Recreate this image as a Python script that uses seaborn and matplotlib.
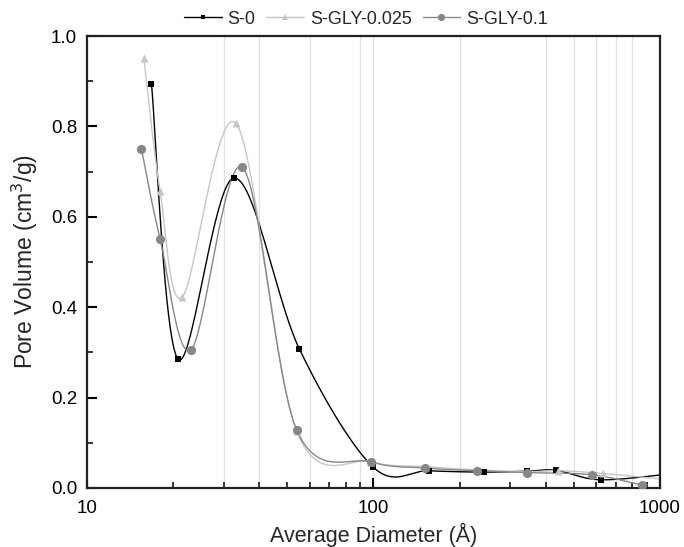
import numpy as np
import pandas as pd
import matplotlib
matplotlib.use('Agg')
import matplotlib.pyplot as plt
from matplotlib.lines import Line2D
from matplotlib.ticker import LogLocator, MultipleLocator, NullFormatter
import seaborn as sns

# pore size distribution
d_s0 = [16.8, 20.8, 32.6, 55.1, 99.8, 155.8, 242.4, 342.4, 434.5, 623.7, 1150]
v_s0 = [0.895, 0.285, 0.686, 0.308, 0.046, 0.038, 0.035, 0.037, 0.039, 0.018, 0.033]

d_g025 = [15.8, 18.0, 21.5, 33.1, 54.0, 98.2, 151.0, 230.0, 342.4, 440.0, 634.0, 1150]
v_g025 = [0.951, 0.658, 0.422, 0.807, 0.125, 0.058, 0.047, 0.040, 0.036, 0.038, 0.032, 0.016]

d_g01 = [15.5, 18.0, 23.1, 34.8, 54.0, 98.2, 150.9, 229.0, 342.4, 580.0, 867.0]
v_g01 = [0.751, 0.552, 0.306, 0.710, 0.128, 0.0575, 0.044, 0.038, 0.034, 0.029, 0.006]

grid_x = [30, 40, 60, 90, 100, 200, 400, 500, 600, 700, 800]


def spline_curve(xs, ys, n=40):
    # uniform Catmull-Rom through the points, done in screen-like units
    # (log x vs linear y) the way Origin's spline connection looks
    P = np.column_stack([(np.log10(xs) - 1) * 286.5, np.asarray(ys) * 452.0])
    P = np.vstack([P[0], P, P[-1]])
    out = []
    s = np.linspace(0, 1, n)[:, None]
    for i in range(1, len(P) - 2):
        p0, p1, p2, p3 = P[i - 1], P[i], P[i + 1], P[i + 2]
        m1 = (p2 - p0) / 2
        m2 = (p3 - p1) / 2
        h00 = 2 * s**3 - 3 * s**2 + 1
        h10 = s**3 - 2 * s**2 + s
        h01 = -2 * s**3 + 3 * s**2
        h11 = s**3 - s**2
        out.append(h00 * p1 + h10 * m1 + h01 * p2 + h11 * m2)
    out = np.vstack(out)
    return 10 ** (out[:, 0] / 286.5 + 1), out[:, 1] / 452.0


series = [
    ('S-0', d_s0, v_s0, '#000000', 's', 4.2, 3.2),
    ('S-GLY-0.025', d_g025, v_g025, '#c6c6c6', '^', 5.8, 4.0),
    ('S-GLY-0.1', d_g01, v_g01, '#878787', 'o', 6.6, 5.2),
]

sns.set_style('white')
plt.rcParams['font.family'] = ['Liberation Sans', 'DejaVu Sans']

fig = plt.figure(figsize=(6.84, 5.47), dpi=100)
ax = fig.add_axes([0.127, 0.108, 0.838, 0.826])

for gx in grid_x:
    ax.axvline(gx, color='#e0e0e0', lw=0.9, zorder=0)

handles = []
for name, xs, ys, col, mk, ms, lms in series:
    cx, cy = spline_curve(xs, ys)
    curve = pd.DataFrame({'d': cx, 'v': cy})
    sns.lineplot(data=curve, x='d', y='v', ax=ax, color=col, lw=1.0,
                 sort=False, estimator=None, zorder=2)
    pts = pd.DataFrame({'d': xs, 'v': ys})
    sns.scatterplot(data=pts, x='d', y='v', ax=ax, color=col, marker=mk,
                    s=ms ** 2, edgecolor=col, linewidth=0, zorder=3)
    handles.append(Line2D([], [], color=col, lw=1.0, marker=mk,
                          markersize=lms, markeredgewidth=0, label=name))

ax.set_xscale('log')
ax.set_xlim(10, 1000)
ax.set_ylim(0, 1.0)
ax.xaxis.set_minor_locator(LogLocator(base=10, subs=np.arange(2, 10), numticks=20))
ax.xaxis.set_minor_formatter(NullFormatter())
ax.set_xticks([10, 100, 1000])
ax.set_xticklabels(['10', '100', '1000'])
ax.yaxis.set_major_locator(MultipleLocator(0.2))
ax.yaxis.set_minor_locator(MultipleLocator(0.1))
ax.yaxis.set_major_formatter(plt.FuncFormatter(lambda v, p: f'{v:.1f}'))

ax.tick_params(which='major', direction='in', length=7, width=1.5,
               labelsize=13.5, colors='black', top=False, right=False,
               bottom=True, left=True)
ax.tick_params(axis='x', which='major', pad=9)
ax.tick_params(axis='y', which='major', pad=7)
ax.tick_params(which='minor', direction='in', length=4.5, width=1.3,
               top=False, right=False, bottom=True, left=True)
for sp in ax.spines.values():
    sp.set_visible(True)
    sp.set_color('#222222')
    sp.set_linewidth(1.6)

ax.set_xlabel('Average Diameter (Å)', fontsize=15.5, labelpad=4)
ax.set_ylabel('Pore Volume (cm$^3$/g)', fontsize=16.5, labelpad=8)

ax.legend(handles=handles, loc='center', bbox_to_anchor=(0.535, 0.965),
          bbox_transform=fig.transFigure, ncol=3, frameon=False,
          fontsize=13, handlelength=2.1, columnspacing=0.6,
          handletextpad=0.3, borderpad=0)

fig.savefig('out.png', dpi=100)
